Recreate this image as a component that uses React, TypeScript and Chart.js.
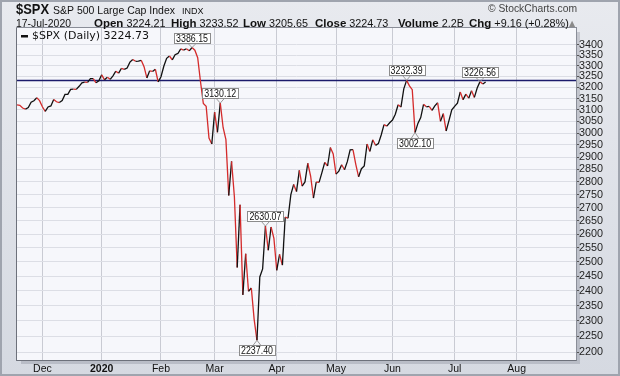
import React, { useEffect, useRef } from 'react';
import { Chart, registerables } from 'chart.js';

Chart.register(...registerables);

// Daily closes, 18-Nov-2019 .. 17-Jul-2020 (trading days)
const closesNov = [3122.03, 3120.18, 3108.46, 3103.54, 3110.29, 3133.64, 3140.52, 3153.63, 3140.98];
const closesDec = [3113.87, 3093.2, 3112.76, 3117.43, 3145.91, 3135.96, 3132.52, 3141.63, 3168.57, 3168.8, 3191.45, 3192.52, 3191.14, 3205.37, 3221.22, 3224.01, 3223.38, 3239.91, 3240.02, 3221.29, 3230.78];
const closesJan = [3257.85, 3234.85, 3246.28, 3237.18, 3253.05, 3274.7, 3265.35, 3288.13, 3283.15, 3289.29, 3316.81, 3329.62, 3320.79, 3321.75, 3325.54, 3295.47, 3243.63, 3276.24, 3273.4, 3283.66, 3225.52];
const closesFeb = [3248.92, 3297.59, 3334.69, 3345.78, 3327.71, 3352.09, 3357.75, 3379.45, 3373.94, 3380.16, 3370.29, 3386.15, 3373.23, 3337.75, 3225.89, 3128.21, 3116.39, 2978.76, 2954.22];
const closesMar = [3090.23, 3003.37, 3130.12, 3023.94, 2972.37, 2746.56, 2882.23, 2741.38, 2480.64, 2711.02, 2386.13, 2529.19, 2398.1, 2409.39, 2304.92, 2237.4, 2447.33, 2475.56, 2630.07, 2541.47, 2626.65, 2584.59];
const closesApr = [2470.5, 2526.9, 2488.65, 2663.68, 2659.41, 2749.98, 2789.82, 2761.63, 2846.06, 2783.36, 2799.55, 2874.56, 2823.16, 2736.56, 2799.31, 2797.8, 2836.74, 2878.48, 2863.39, 2939.51, 2912.43];
const closesMay = [2830.71, 2842.74, 2868.44, 2848.42, 2881.19, 2929.8, 2930.32, 2870.12, 2820.0, 2852.5, 2863.7, 2953.91, 2922.94, 2971.61, 2948.51, 2955.45, 2991.77, 3036.13, 3029.73, 3044.31];
const closesJun = [3055.73, 3080.82, 3122.87, 3112.35, 3193.93, 3232.39, 3207.18, 3190.14, 3002.1, 3041.31, 3066.59, 3124.74, 3113.49, 3115.34, 3097.74, 3117.86, 3131.29, 3050.33, 3083.76, 3009.05, 3053.24, 3100.29];
const closesJul = [3115.86, 3130.01, 3179.72, 3145.32, 3169.94, 3152.05, 3185.04, 3155.22, 3197.52, 3226.56, 3215.57, 3224.73];

const closes = [
  ...closesNov, ...closesDec, ...closesJan, ...closesFeb, ...closesMar,
  ...closesApr, ...closesMay, ...closesJun, ...closesJul,
];

// x axis: trading-day index of the first session of each month
const monthTickIdx = [9, 30, 51, 70, 92, 113, 133, 155, 177];
const monthLabels = ['Dec', '2020', 'Feb', 'Mar', 'Apr', 'May', 'Jun', 'Jul', 'Aug'];
const xMax = 198;

const yTicks = [2200, 2250, 2300, 2350, 2400, 2450, 2500, 2550, 2600, 2650, 2700, 2750, 2800, 2850, 2900, 2950, 3000, 3050, 3100, 3150, 3200, 3250, 3300, 3350, 3400];
const yMin = 2176;
const yMax = 3481;

const hLineValue = 3232.39;

// labelled points (index into closes) and whether the label sits below
const annotIdx = [62, 72, 88, 85, 138, 141, 164];
const annotBelow = [false, false, false, true, false, true, false];

const headerTitle = '$SPX';
const headerName = 'S&P 500 Large Cap Index';
const headerExch = 'INDX';
const headerDate = '17-Jul-2020';
const headerStats: [string, string][] = [
  ['Open', '3224.21'],
  ['High', '3233.52'],
  ['Low', '3205.65'],
  ['Close', '3224.73'],
  ['Volume', '2.2B'],
  ['Chg', '+9.16 (+0.28%)'],
];
const legendText = '$SPX (Daily) 3224.73';

const RED = '#d42b2b';
const BLACK = '#111111';

export default function App() {
  const ref = useRef<HTMLCanvasElement>(null);

  useEffect(() => {
    const canvas = ref.current!;
    const points = closes.map((v, i) => ({ x: i, y: v }));

    const plugin = {
      id: 'stockcharts',
      beforeDraw(chart: any) {
        const { ctx, width, height, chartArea: a } = chart;
        ctx.save();
        const g = ctx.createLinearGradient(0, 0, 0, height);
        g.addColorStop(0, '#e8eaef');
        g.addColorStop(1, '#d5d9e1');
        ctx.fillStyle = g;
        ctx.fillRect(0, 0, width, height);
        ctx.strokeStyle = '#9fa4ae';
        ctx.lineWidth = 2;
        ctx.strokeRect(1, 1, width - 2, height - 2);
        // shadow
        ctx.fillStyle = 'rgba(110,115,130,0.28)';
        ctx.fillRect(a.left + 4, a.top + 4, a.right - a.left, a.bottom - a.top);
        ctx.fillStyle = '#f6f7fb';
        ctx.fillRect(a.left, a.top, a.right - a.left, a.bottom - a.top);
        ctx.restore();
      },
      beforeDatasetsDraw(chart: any) {
        const { ctx, chartArea: a, scales } = chart;
        ctx.save();
        const y = Math.round(scales.y.getPixelForValue(hLineValue)) + 0.5;
        ctx.strokeStyle = '#1b1b6b';
        ctx.lineWidth = 1.5;
        ctx.beginPath();
        ctx.moveTo(a.left, y);
        ctx.lineTo(a.right, y);
        ctx.stroke();
        ctx.restore();
      },
      afterDatasetsDraw(chart: any) {
        const { ctx, chartArea: a, scales } = chart;
        ctx.save();
        // plot border
        ctx.strokeStyle = '#8a8e98';
        ctx.lineWidth = 1;
        ctx.strokeRect(a.left - 0.5, a.top - 0.5, a.right - a.left + 1, a.bottom - a.top + 1);
        ctx.strokeStyle = '#6d717b';
        ctx.beginPath();
        ctx.moveTo(a.left - 0.5, a.top);
        ctx.lineTo(a.left - 0.5, a.bottom + 0.5);
        ctx.lineTo(a.right + 0.5, a.bottom + 0.5);
        ctx.stroke();

        // annotations
        ctx.font = '10.5px Arial, "Liberation Sans", sans-serif';
        ctx.textAlign = 'center';
        ctx.textBaseline = 'middle';
        annotIdx.forEach((idx, k) => {
          const v = closes[idx];
          const px = scales.x.getPixelForValue(idx);
          const py = scales.y.getPixelForValue(v);
          const txt = v.toFixed(2);
          const tw = Math.min(ctx.measureText(txt).width, 32);
          const bw = Math.round(tw + 4);
          const bh = 10;
          const gap = 5;
          const below = annotBelow[k];
          const bx = Math.round(px - bw / 2) + 0.5;
          const by = below ? Math.round(py + gap) + 0.5 : Math.round(py - gap - bh) + 0.5;
          const edgeY = below ? by : by + bh;
          ctx.strokeStyle = '#9a9a9a';
          ctx.lineWidth = 1;
          ctx.beginPath();
          ctx.moveTo(px - 4, edgeY);
          ctx.lineTo(px, py);
          ctx.lineTo(px + 4, edgeY);
          ctx.stroke();
          ctx.fillStyle = '#ffffff';
          ctx.fillRect(bx, by, bw, bh);
          ctx.strokeStyle = '#8c8c8c';
          ctx.strokeRect(bx, by, bw, bh);
          ctx.fillStyle = '#111';
          ctx.fillText(txt, px, by + bh / 2 + 0.5, 32);
        });

        // legend
        ctx.fillStyle = '#111';
        ctx.fillRect(a.left + 4, a.top + 7, 7, 2.5);
        ctx.font = '11px "DejaVu Sans", Verdana, sans-serif';
        ctx.textAlign = 'left';
        ctx.textBaseline = 'middle';
        ctx.fillText(legendText, a.left + 15, a.top + 8.5);
        ctx.restore();
      },
      afterDraw(chart: any) {
        const { ctx } = chart;
        ctx.save();
        ctx.textAlign = 'left';
        ctx.textBaseline = 'alphabetic';
        ctx.fillStyle = '#111';
        const draw = (t: string, x: number, y: number, font: string, maxW?: number) => {
          ctx.font = font;
          if (maxW) ctx.fillText(t, x, y, maxW);
          else ctx.fillText(t, x, y);
        };
        const A = 'Arial, "Liberation Sans", sans-serif';
        draw(headerTitle, 16, 13.5, `bold 14px ${A}`, 33);
        draw(headerName, 53, 13.5, `11px ${A}`, 122);
        draw(headerExch, 182, 13.5, `9px ${A}`);
        ctx.fillStyle = '#444';
        draw('\u00a9 StockCharts.com', 488, 12, `11px ${A}`, 89);
        ctx.fillStyle = '#111';
        draw(headerDate, 16, 26.5, `11px ${A}`, 55);
        const starts = [94, 171, 243, 315, 398, 469];
        headerStats.forEach(([lab, val], i) => {
          let x = starts[i];
          ctx.font = `bold 11.5px ${A}`;
          ctx.fillText(lab, x, 26.5);
          x += ctx.measureText(lab).width + 3;
          ctx.font = `10.8px ${A}`;
          ctx.fillText(val, x, 26.5);
        });
        ctx.fillStyle = '#8a8a8a';
        ctx.font = `8px "DejaVu Sans", sans-serif`;
        ctx.fillText('\u25b2', 569, 25.5);
        ctx.restore();
      },
    };

    const chart = new Chart(canvas, {
      type: 'line',
      data: {
        datasets: [
          {
            data: points,
            borderColor: BLACK,
            borderWidth: 1.3,
            pointRadius: 0,
            tension: 0,
            fill: false,
            segment: {
              borderColor: (c: any) => (c.p1.parsed.y < c.p0.parsed.y ? RED : BLACK),
            },
          },
        ],
      },
      options: {
        animation: false,
        responsive: false,
        maintainAspectRatio: false,
        events: [],
        layout: { padding: { left: 17, top: 28, right: 0, bottom: 0 } },
        plugins: { legend: { display: false }, tooltip: { enabled: false }, title: { display: false } },
        scales: {
          x: {
            type: 'linear',
            min: 0,
            max: xMax,
            afterBuildTicks: (s: any) => {
              s.ticks = monthTickIdx.map((v) => ({ value: v }));
            },
            afterFit: (s: any) => {
              s.height = 16;
            },
            border: { display: false },
            grid: { color: '#c9cbd3', drawTicks: false, lineWidth: 1 },
            ticks: {
              autoSkip: false,
              maxRotation: 0,
              padding: 3,
              color: '#111',
              font: (c: any) => ({
                family: 'Arial, "Liberation Sans", sans-serif',
                size: 10.5,
                weight: c.tick && c.tick.value === 30 ? 'bold' : 'normal',
              }),
              callback: (v: any) => {
                const i = monthTickIdx.indexOf(Number(v));
                return i >= 0 ? monthLabels[i] : '';
              },
            },
          },
          y: {
            type: 'logarithmic',
            position: 'right',
            min: yMin,
            max: yMax,
            afterBuildTicks: (s: any) => {
              s.ticks = yTicks.map((v) => ({ value: v }));
            },
            afterFit: (s: any) => {
              s.width = 44;
            },
            border: { display: false },
            grid: { color: '#dcdee5', tickColor: '#555', tickLength: 3, lineWidth: 1 },
            ticks: {
              autoSkip: false,
              padding: 0,
              color: '#222',
              font: { family: 'Arial, "Liberation Sans", sans-serif', size: 10.8 },
              callback: (v: any) => String(v),
            },
          },
        },
      },
      plugins: [plugin],
    } as any);

    return () => chart.destroy();
  }, []);

  return (
    <div style={{ position: 'fixed', left: 0, top: 0, width: 620, height: 376 }}>
      <canvas ref={ref} width={620} height={376} style={{ display: 'block', width: 620, height: 376 }} />
    </div>
  );
}
